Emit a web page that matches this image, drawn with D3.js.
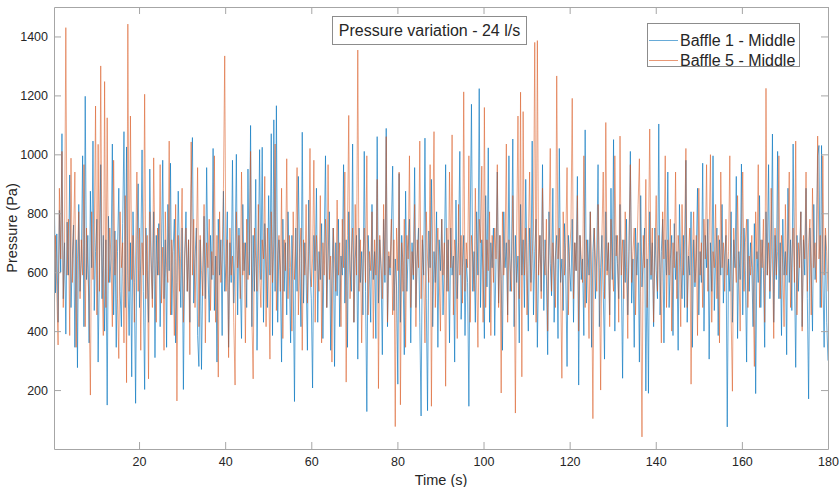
<!DOCTYPE html>
<html lang="en">
<head>
    <meta charset="utf-8">
    <title>Pressure variation</title>
    <script src="https://d3js.org/d3.v7.min.js" charset="utf-8"></script>
    <style type="text/css">
    	body {
    		margin: 0;
    		background-color: white;
    	}
    	svg text {
    		font-family: "Liberation Sans", Arial, sans-serif;
    		fill: #262626;
    	}
    </style>
</head>
<body>
    <script type="text/javascript">
	// sampling grid: one value every 0.3 s, first sample at 0.3 s
	var sampleStep = 0.3;

	var xTicks = [20, 40, 60, 80, 100, 120, 140, 160, 180];
	var yTicks = [200, 400, 600, 800, 1000, 1200, 1400];
	var seriesNames = ["Baffle 1 - Middle", "Baffle 5 - Middle"];
	var titleText = "Pressure variation - 24 l/s";

	// Baffle 1 - Middle (Pa)
	var baffle1 = [
		880, 530, 730, 430, 810, 600, 1070, 510, 700, 390, 770, 590, 930, 480, 645, 760, 345, 710, 276, 830,
		535, 645, 995, 415, 1197, 575, 725, 360, 875, 615, 1045, 470, 670, 780, 295, 615, 965, 510, 725, 400,
		710, 149, 790, 565, 645, 1035, 455, 740, 345, 670, 885, 535, 415, 765, 1077, 480, 1025, 590, 385, 700,
		245, 805, 565, 155, 710, 900, 480, 645, 1015, 535, 202, 750, 605, 430, 950, 655, 510, 805, 310, 725,
		590, 765, 415, 655, 980, 510, 710, 345, 830, 605, 970, 455, 670, 780, 360, 565, 875, 645, 480, 750,
		202, 655, 805, 535, 710, 430, 885, 1057, 495, 645, 750, 385, 280, 710, 270, 590, 790, 510, 955, 615,
		430, 725, 575, 1020, 470, 655, 295, 780, 590, 710, 385, 875, 535, 630, 805, 345, 700, 565, 980, 495,
		645, 1000, 455, 750, 575, 375, 830, 605, 700, 480, 950, 590, 1098, 415, 725, 535, 915, 335, 655, 1016,
		575, 1024, 430, 765, 645, 480, 860, 590, 1070, 385, 1117, 535, 1165, 430, 710, 605, 295, 780, 535, 700,
		455, 805, 615, 360, 725, 575, 161, 750, 535, 925, 645, 415, 1075, 495, 700, 590, 335, 845, 615, 510,
		207, 725, 605, 885, 430, 670, 575, 765, 375, 700, 995, 480, 645, 805, 335, 590, 750, 280, 700, 520,
		780, 415, 655, 590, 965, 495, 710, 345, 805, 605, 535, 1035, 430, 645, 725, 305, 750, 565, 670, 455,
		1010, 535, 127, 725, 615, 430, 830, 575, 670, 375, 1060, 495, 710, 605, 320, 780, 565, 1088, 415, 655,
		590, 750, 960, 470, 645, 550, 220, 935, 430, 725, 615, 320, 875, 535, 670, 780, 360, 700, 575, 955,
		480, 655, 750, 430, 112, 710, 590, 1055, 510, 130, 740, 615, 915, 415, 670, 565, 805, 345, 710, 605,
		780, 455, 645, 965, 535, 710, 360, 750, 590, 655, 295, 845, 510, 700, 1010, 440, 615, 725, 385, 645,
		565, 145, 750, 1170, 535, 670, 430, 805, 590, 1223, 480, 710, 605, 375, 860, 550, 1022, 430, 700, 615,
		750, 385, 645, 940, 495, 725, 575, 335, 805, 615, 700, 455, 995, 535, 645, 1052, 415, 725, 565, 655,
		360, 830, 590, 710, 480, 915, 605, 400, 750, 565, 1045, 455, 670, 780, 345, 630, 725, 535, 965, 470,
		710, 590, 320, 805, 630, 520, 885, 430, 655, 725, 375, 1020, 565, 645, 470, 765, 590, 280, 725, 615,
		535, 780, 430, 700, 605, 925, 217, 725, 575, 645, 385, 1083, 495, 710, 590, 805, 345, 670, 750, 510,
		655, 965, 415, 615, 725, 535, 305, 805, 605, 700, 455, 885, 575, 1050, 400, 725, 630, 510, 830, 590,
		240, 710, 565, 780, 455, 670, 1010, 495, 645, 345, 750, 590, 700, 295, 860, 550, 655, 750, 197, 645,
		189, 805, 575, 700, 415, 750, 605, 510, 1103, 455, 670, 780, 360, 710, 590, 940, 480, 645, 725, 385,
		765, 575, 670, 335, 830, 615, 510, 725, 480, 980, 430, 655, 590, 805, 345, 710, 550, 645, 885, 455,
		670, 565, 970, 400, 725, 615, 780, 305, 700, 535, 995, 470, 645, 750, 385, 710, 590, 830, 495, 655,
		725, 75, 645, 535, 805, 430, 710, 615, 925, 375, 670, 575, 967, 455, 750, 605, 295, 780, 535, 700,
		615, 415, 765, 188, 670, 565, 860, 480, 710, 605, 345, 805, 590, 965, 510, 655, 1069, 430, 725, 575,
		1010, 510, 700, 385, 780, 590, 670, 320, 885, 565, 710, 470, 1035, 615, 277, 725, 535, 655, 805, 415,
		710, 590, 885, 510, 170, 750, 615, 400, 830, 575, 655, 995, 1030, 480, 1030, 590, 345, 725, 430, 300
	];

	// Baffle 5 - Middle (Pa)
	var baffle5 = [
		430, 725, 535, 353, 885, 645, 1010, 480, 700, 1430, 590, 780, 385, 987, 565, 725, 940, 345, 645, 805,
		510, 710, 590, 965, 415, 750, 615, 495, 183, 805, 575, 700, 1164, 455, 1034, 535, 1300, 605, 385, 1247,
		480, 1124, 565, 750, 645, 415, 980, 590, 710, 510, 307, 805, 615, 700, 360, 860, 225, 1442, 535, 1130,
		575, 725, 430, 655, 940, 535, 750, 335, 700, 590, 1204, 510, 725, 238, 805, 615, 480, 988, 645, 430,
		750, 590, 965, 495, 685, 335, 805, 615, 565, 1045, 455, 710, 615, 385, 830, 163, 725, 535, 670, 885,
		430, 645, 750, 535, 710, 320, 1042, 590, 780, 480, 670, 955, 415, 725, 605, 520, 830, 360, 700, 615,
		780, 470, 670, 590, 995, 430, 725, 244, 805, 565, 645, 885, 1334, 535, 710, 310, 750, 590, 655, 430,
		217, 805, 615, 725, 510, 940, 590, 700, 360, 780, 575, 670, 1010, 455, 238, 750, 645, 535, 830, 605,
		480, 710, 645, 925, 415, 750, 590, 305, 805, 565, 700, 1035, 470, 655, 725, 535, 885, 375, 710, 605,
		985, 510, 725, 615, 400, 805, 575, 700, 955, 455, 645, 750, 335, 710, 590, 830, 495, 670, 1020, 550,
		645, 980, 430, 725, 615, 535, 860, 360, 700, 590, 780, 480, 965, 575, 655, 295, 750, 645, 535, 845,
		590, 700, 415, 780, 615, 940, 227, 725, 1132, 510, 655, 750, 430, 830, 590, 1354, 535, 710, 360, 645,
		750, 565, 995, 455, 670, 605, 805, 375, 710, 590, 915, 205, 725, 630, 510, 830, 590, 1060, 430, 670,
		615, 780, 455, 710, 76, 750, 605, 940, 150, 700, 535, 780, 345, 725, 645, 995, 480, 670, 590, 830,
		415, 710, 615, 1045, 510, 725, 590, 360, 805, 645, 565, 965, 145, 740, 1077, 480, 655, 750, 590, 400,
		780, 590, 700, 213, 750, 535, 940, 615, 1066, 455, 710, 645, 375, 830, 590, 725, 495, 1212, 535, 700,
		615, 995, 430, 725, 645, 535, 885, 590, 345, 780, 700, 960, 430, 1159, 480, 710, 605, 805, 385, 725,
		565, 750, 645, 965, 480, 725, 190, 805, 590, 670, 1035, 430, 710, 615, 535, 860, 645, 122, 725, 1130,
		510, 1211, 245, 1145, 590, 750, 455, 700, 940, 535, 655, 750, 1380, 430, 1386, 590, 725, 510, 885, 645,
		590, 780, 400, 725, 1020, 535, 700, 615, 480, 1266, 645, 750, 565, 240, 805, 590, 700, 955, 455, 670,
		750, 1190, 510, 700, 605, 860, 400, 725, 645, 565, 995, 480, 710, 615, 375, 805, 590, 103, 750, 645,
		535, 830, 615, 200, 725, 940, 510, 1108, 590, 700, 415, 780, 615, 535, 995, 655, 725, 430, 1062, 590,
		710, 510, 805, 615, 375, 725, 965, 565, 670, 750, 455, 645, 830, 985, 535, 41, 725, 615, 915, 480,
		700, 1086, 590, 750, 430, 670, 860, 535, 725, 615, 360, 805, 645, 995, 480, 710, 590, 780, 400, 700,
		615, 940, 510, 725, 655, 415, 830, 590, 710, 1020, 480, 670, 750, 220, 645, 805, 565, 725, 385, 885,
		590, 700, 480, 780, 645, 965, 535, 725, 999, 430, 670, 615, 830, 510, 725, 360, 940, 615, 700, 535,
		780, 590, 670, 995, 455, 196, 750, 645, 565, 860, 615, 400, 725, 940, 535, 700, 780, 480, 655, 590,
		725, 535, 280, 805, 645, 965, 480, 710, 615, 780, 430, 1224, 590, 700, 535, 885, 645, 375, 750, 590,
		670, 995, 510, 725, 615, 415, 830, 590, 700, 940, 480, 645, 750, 565, 1045, 455, 700, 615, 805, 400,
		725, 645, 940, 535, 700, 780, 455, 885, 615, 700, 565, 1062, 645, 725, 480, 995, 590, 750, 670, 535
	];

	var colors = ["#0072bd", "#d95319"];
	var opac = [0.95, 0.8];

	var W = 839, H = 487;
	var margin = { top: 7, right: 11, bottom: 38, left: 54 };
	var width = W - margin.left - margin.right,
	    height = H - margin.top - margin.bottom;

	var svg = d3.select("body")
		.append("svg")
		.attr("width", W)
		.attr("height", H);

	var g = svg.append("g")
		.attr("transform", "translate(" + margin.left + "," + margin.top + ")");

	var xscale = d3.scaleLinear().domain([0.25, 180]).range([0, width]);
	var yscale = d3.scaleLinear().domain([0, 1500]).range([height, 0]);

	g.append("clipPath").attr("id", "clip")
		.append("rect").attr("width", width).attr("height", height);

	var line = d3.line()
		.x(function(d, i) { return xscale((i + 1) * sampleStep); })
		.y(function(d) { return yscale(d); });

	[baffle1, baffle5].forEach(function(s, k) {
		g.append("path")
			.datum(s)
			.attr("clip-path", "url(#clip)")
			.attr("fill", "none")
			.attr("stroke", colors[k])
			.attr("stroke-width", 0.65)
			.attr("stroke-opacity", opac[k])
			.attr("stroke-linejoin", "round")
			.attr("d", line);
	});

	// axes, ticks pointing inwards, box on all four sides
	var tk = 7;
	var axisColor = "#a6a6a6";
	var fmt = d3.format("d");

	g.append("g")
		.attr("transform", "translate(0," + height + ")")
		.call(d3.axisBottom(xscale).tickValues(xTicks).tickFormat(fmt).tickSizeInner(-tk).tickSizeOuter(0).tickPadding(8));
	g.append("g")
		.call(d3.axisLeft(yscale).tickValues(yTicks).tickFormat(fmt).tickSizeInner(-tk).tickSizeOuter(0).tickPadding(6));
	g.append("g")
		.call(d3.axisTop(xscale).tickValues(xTicks).tickSizeInner(-tk).tickSizeOuter(0).tickFormat(""));
	g.append("g")
		.attr("transform", "translate(" + width + ",0)")
		.call(d3.axisRight(yscale).tickValues(yTicks).tickSizeInner(-tk).tickSizeOuter(0).tickFormat(""));

	g.selectAll(".domain, .tick line").attr("stroke", axisColor);
	g.selectAll(".tick text")
		.attr("font-family", "Liberation Sans, Arial, sans-serif")
		.attr("font-size", "12.5px")
		.attr("fill", "#262626");

	// axis labels
	svg.append("text")
		.attr("x", margin.left + width / 2)
		.attr("y", 485)
		.attr("text-anchor", "middle")
		.attr("font-size", "14.5px")
		.text("Time (s)");

	svg.append("text")
		.attr("transform", "translate(17," + (margin.top + height / 2) + ") rotate(-90)")
		.attr("text-anchor", "middle")
		.attr("font-size", "14.5px")
		.text("Pressure (Pa)");

	// title box
	svg.append("rect")
		.attr("x", 332.5).attr("y", 16.5)
		.attr("width", 194).attr("height", 28)
		.attr("fill", "white")
		.attr("stroke", "#8c8c8c");
	svg.append("text")
		.attr("x", 429.5).attr("y", 36)
		.attr("text-anchor", "middle")
		.attr("font-size", "16px")
		.text(titleText);

	// legend
	var lg = svg.append("g");
	lg.append("rect")
		.attr("x", 647.5).attr("y", 23.5)
		.attr("width", 152).attr("height", 43)
		.attr("fill", "white")
		.attr("stroke", "#8c8c8c");
	seriesNames.forEach(function(name, k) {
		var yy = 40.5 + k * 20;
		lg.append("line")
			.attr("x1", 649).attr("x2", 678)
			.attr("y1", yy).attr("y2", yy)
			.attr("stroke", colors[k])
			.attr("stroke-width", 0.6);
		lg.append("text")
			.attr("x", 680).attr("y", yy + 5.5)
			.attr("font-size", "16px")
			.text(name);
	});
    </script>
</body>
</html>
